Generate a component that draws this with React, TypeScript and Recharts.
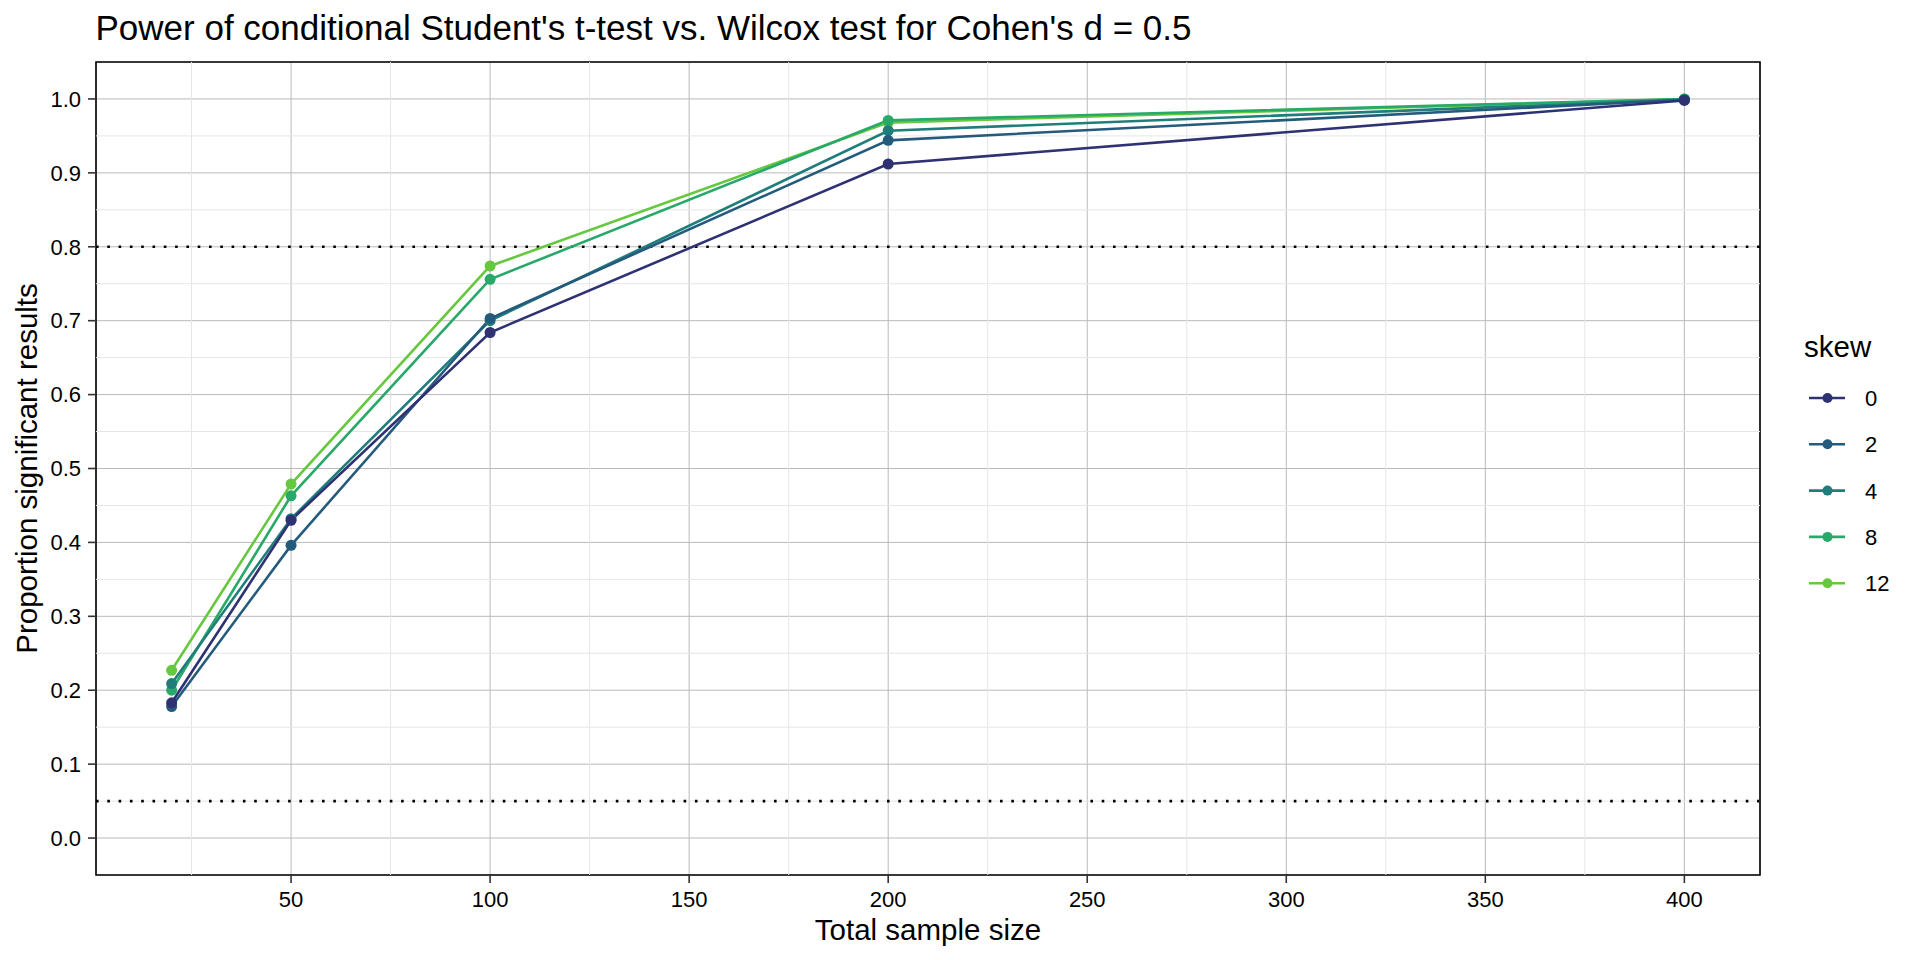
import { CartesianGrid, Line, LineChart, ReferenceArea, ReferenceLine, XAxis, YAxis } from 'recharts'

const sampleSizes = [20, 50, 100, 200, 400]
const skewLevels = ['0', '2', '4', '8', '12']
const skew0 = [0.183, 0.43, 0.684, 0.912, 0.998]
const skew2 = [0.178, 0.396, 0.703, 0.944, 0.999]
const skew4 = [0.209, 0.432, 0.7, 0.957, 0.999]
const skew8 = [0.2, 0.463, 0.756, 0.971, 1.0]
const skew12 = [0.227, 0.479, 0.774, 0.968, 1.0]
const seriesColors = ['#2e3172', '#245b7d', '#1f7e7a', '#28a96a', '#66c83f']

const xTicks = [50, 100, 150, 200, 250, 300, 350, 400]
const xMinor = [25, 75, 125, 175, 225, 275, 325, 375]
const yTicks = [0, 0.1, 0.2, 0.3, 0.4, 0.5, 0.6, 0.7, 0.8, 0.9, 1.0]
const yMinor = [0.05, 0.15, 0.25, 0.35, 0.45, 0.55, 0.65, 0.75, 0.85, 0.95]
const powerRefs = [0.8, 0.05]
const xDomain: [number, number] = [1, 419]
const yDomain: [number, number] = [-0.05, 1.05]

const FONT = '"Liberation Sans", Arial, Helvetica, sans-serif'

const seriesValues = [skew0, skew2, skew4, skew8, skew12]
const series = skewLevels.map((name, i) => ({ name, key: 's' + name, color: seriesColors[i] }))

const data = sampleSizes.map((n, i) => {
  const row: Record<string, number> = { n }
  series.forEach((s, j) => {
    row[s.key] = seriesValues[j][i]
  })
  return row
})

// ggplot draws the last level first here, so 0 ends up on top
const drawOrder = [...series].reverse()

export default function App() {
  return (
    <div style={{ position: 'absolute', left: 0, top: 0, width: 1920, height: 960, background: '#fff', fontFamily: FONT }}>
      <LineChart width={1920} height={960} data={data} margin={{ top: 62, right: 160, bottom: 0, left: 0 }}>
        {xMinor.map((x) => (
          <ReferenceLine key={'xm' + x} x={x} stroke="#e6e6e6" strokeWidth={1} />
        ))}
        {yMinor.map((y) => (
          <ReferenceLine key={'ym' + y} y={y} stroke="#e6e6e6" strokeWidth={1} />
        ))}
        <CartesianGrid stroke="#bababa" strokeWidth={1} />
        <XAxis
          dataKey="n"
          type="number"
          domain={xDomain}
          ticks={xTicks}
          allowDataOverflow
          height={85}
          axisLine={false}
          tickSize={8}
          tickMargin={8}
          tickLine={{ stroke: '#333', strokeWidth: 1.6 }}
          tick={{ fill: '#000', fontSize: 22, fontFamily: FONT }}
        />
        <YAxis
          type="number"
          domain={yDomain}
          ticks={yTicks}
          allowDataOverflow
          width={96}
          axisLine={false}
          tickSize={8}
          tickMargin={7}
          tickLine={{ stroke: '#333', strokeWidth: 1.6 }}
          tick={{ fill: '#000', fontSize: 22, fontFamily: FONT }}
          tickFormatter={(v) => Number(v).toFixed(1)}
        />
        {powerRefs.map((y) => (
          <ReferenceLine key={'p' + y} y={y} stroke="#000" strokeWidth={2.6} strokeDasharray="2.6 8.7" />
        ))}
        {drawOrder.map((s) => (
          <Line
            key={'l' + s.key}
            dataKey={s.key}
            stroke={s.color}
            strokeWidth={2.6}
            dot={false}
            activeDot={false}
            isAnimationActive={false}
          />
        ))}
        {drawOrder.map((s) => (
          <Line
            key={'d' + s.key}
            dataKey={s.key}
            stroke="none"
            dot={{ r: 5.5, fill: s.color, stroke: s.color, strokeWidth: 0 }}
            activeDot={false}
            isAnimationActive={false}
          />
        ))}
        <ReferenceArea x1={xDomain[0]} x2={xDomain[1]} y1={yDomain[0]} y2={yDomain[1]} fill="none" stroke="#000" strokeWidth={1.6} />
      </LineChart>
      <svg width={1920} height={960} style={{ position: 'absolute', left: 0, top: 0, pointerEvents: 'none' }} fontFamily={FONT}>
        <text x={95.5} y={39.5} fontSize={35} fill="#000">
          Power of conditional Student's t-test vs. Wilcox test for Cohen's d = 0.5
        </text>
        <text x={928} y={940} fontSize={29.5} fill="#000" textAnchor="middle">
          Total sample size
        </text>
        <text x={37} y={468.5} fontSize={29.5} fill="#000" textAnchor="middle" transform="rotate(-90 37 468.5)">
          Proportion significant results
        </text>
        <text x={1804} y={357} fontSize={29.5} fill="#000">
          skew
        </text>
        {series.map((s, i) => {
          const cy = 398 + i * 46.3
          return (
            <g key={'lg' + s.key}>
              <line x1={1809} x2={1845} y1={cy} y2={cy} stroke={s.color} strokeWidth={2.6} />
              <circle cx={1827.5} cy={cy} r={5} fill={s.color} />
              <text x={1865} y={cy + 8} fontSize={22} fill="#000">
                {s.name}
              </text>
            </g>
          )
        })}
      </svg>
    </div>
  )
}
